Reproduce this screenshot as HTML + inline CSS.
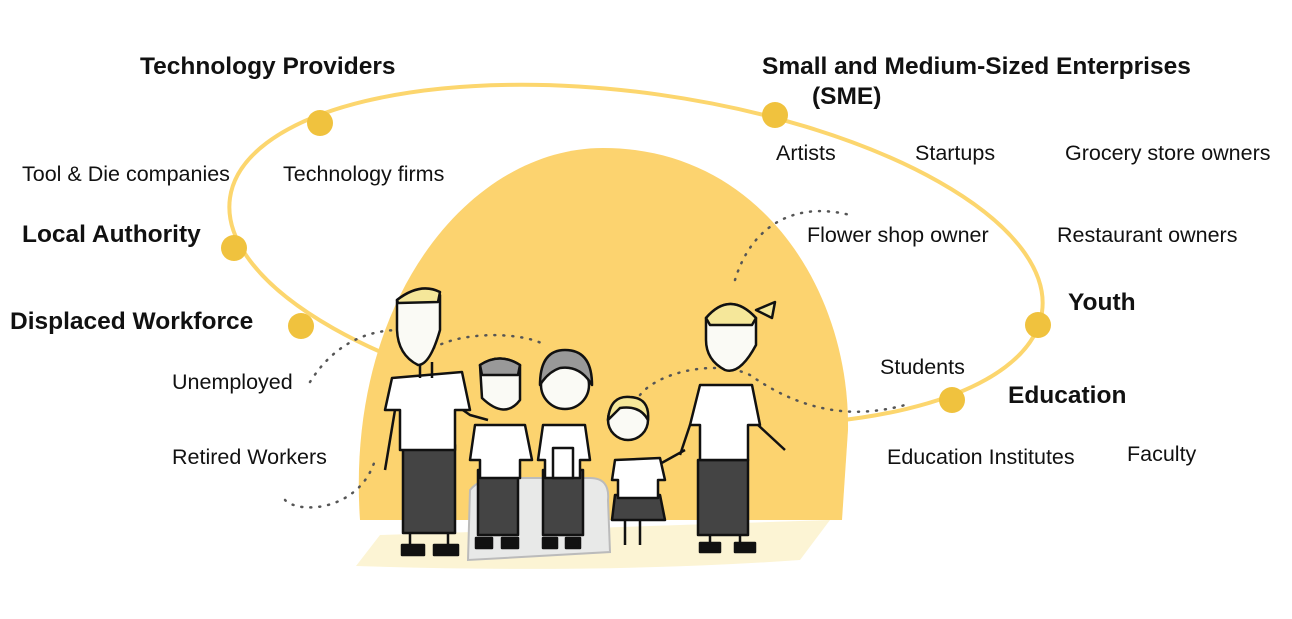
<!DOCTYPE html>
<html><head><meta charset="utf-8"><style>
body{margin:0;background:#fff;width:1292px;height:614px;overflow:hidden}
text{font-family:"Liberation Sans",sans-serif;fill:#111}
.b{font-weight:bold;font-size:24.5px}
.r{font-size:21.5px}
</style></head><body>
<svg width="1292" height="614" viewBox="0 0 1292 614">
<ellipse cx="636" cy="255" rx="410" ry="162" transform="rotate(8 636 255)" fill="none" stroke="#fcd66e" stroke-width="4"/>
<path d="M360,520 C345,300 470,148 603,148 C760,148 850,290 848,430 L842,520 Z" fill="#fcd36f"/>
<path d="M356,566 L380,535 L830,520 L800,560 Q600,574 356,566 Z" fill="#fcf4d4"/>
<g fill="#f0c23e">
<circle cx="320" cy="123" r="13"/><circle cx="775" cy="115" r="13"/><circle cx="234" cy="248" r="13"/>
<circle cx="301" cy="326" r="13"/><circle cx="1038" cy="325" r="13"/><circle cx="952" cy="400" r="13"/>
</g>
<g fill="none" stroke="#555" stroke-width="2.5" stroke-dasharray="1 8" stroke-linecap="round">
<path d="M310,382 C330,350 360,330 400,330"/>
<path d="M285,500 C300,515 360,510 375,460"/>
<path d="M420,360 C440,330 520,330 545,345"/>
<path d="M735,280 C750,230 790,200 850,215"/>
<path d="M640,395 C660,370 720,360 750,375 C800,410 850,420 905,405"/>
</g>
<path d="M468,560 L470,490 Q480,478 500,478 L590,478 Q610,478 608,500 L610,552 Z" fill="#e8e9e8" stroke="#bbb" stroke-width="2"/>
<g stroke="#111" stroke-width="2.5" stroke-linejoin="round">
<!-- man -->
<path d="M395,410 L385,470 M460,408 L470,415 L488,420" fill="none"/>
<path d="M410,530 L410,545 M448,530 L448,545" fill="none"/>
<rect x="402" y="545" width="22" height="10" fill="#111"/><rect x="434" y="545" width="24" height="10" fill="#111"/>
<rect x="403" y="445" width="52" height="88" fill="#444"/>
<path d="M392,378 L462,372 L470,410 L455,410 L455,450 L400,450 L400,410 L385,410 Z" fill="#fff"/>
<path d="M420,362 L420,378 M432,362 L432,378" fill="none"/>
<path d="M397,300 Q420,282 440,295 L440,330 Q430,365 418,365 Q398,355 397,330 Z" fill="#fafaf5"/>
<path d="M397,300 Q420,282 440,292 L438,302 L398,303 Z" fill="#f5e79a"/>
<!-- old man -->
<rect x="478" y="470" width="40" height="65" fill="#444"/>
<rect x="476" y="538" width="16" height="10" fill="#111"/><rect x="502" y="538" width="16" height="10" fill="#111"/>
<path d="M475,425 L525,425 L532,460 L520,460 L520,478 L480,478 L480,460 L470,460 Z" fill="#fff"/>
<path d="M480,365 Q500,352 520,365 L520,400 Q505,420 482,398 Z" fill="#fafaf5"/>
<path d="M480,365 Q500,352 520,365 L518,375 L482,375 Z" fill="#999"/>
<!-- woman -->
<rect x="543" y="470" width="40" height="65" fill="#444"/>
<rect x="543" y="538" width="14" height="10" fill="#111"/><rect x="566" y="538" width="14" height="10" fill="#111"/>
<path d="M543,425 L585,425 L590,460 L580,460 L580,478 L545,478 L545,460 L538,460 Z" fill="#fff"/>
<rect x="553" y="448" width="20" height="30" fill="#fff"/>
<circle cx="565" cy="385" r="24" fill="#fafaf5"/>
<path d="M540,385 Q540,350 565,350 Q592,350 592,385 Q580,365 560,368 Q548,372 540,385Z" fill="#999"/>
<!-- girl -->
<path d="M625,520 L625,545 M640,520 L640,545 M658,465 L685,450" fill="none"/>
<path d="M615,495 L660,495 L665,520 L612,520 Z" fill="#444"/>
<path d="M615,460 L660,458 L665,480 L658,480 L658,498 L618,498 L618,480 L612,480 Z" fill="#fff"/>
<circle cx="628" cy="420" r="20" fill="#fafaf5"/>
<path d="M608,420 Q610,395 630,397 Q650,398 648,420 Q640,405 620,408 Z" fill="#f5e79a"/>
<!-- woman right -->
<path d="M710,535 L710,545 M740,535 L740,545 M690,425 L680,455 M758,425 L785,450" fill="none"/>
<rect x="700" y="543" width="20" height="9" fill="#111"/><rect x="735" y="543" width="20" height="9" fill="#111"/>
<rect x="698" y="460" width="50" height="75" fill="#444"/>
<path d="M700,385 L752,385 L760,425 L748,425 L748,460 L700,460 L700,425 L690,425 Z" fill="#fff"/>
<path d="M706,318 Q730,290 756,318 L756,345 Q740,375 725,370 Q706,360 706,340 Z" fill="#fafaf5"/>
<path d="M706,318 Q730,290 756,318 L752,325 L710,325Z" fill="#f5e79a"/>
<path d="M756,310 L775,302 L772,318 Z" fill="#f5e79a"/>
</g>
<text class="b" x="140" y="74">Technology Providers</text>
<text class="b" x="762" y="74">Small and Medium-Sized Enterprises</text>
<text class="b" x="812" y="104">(SME)</text>
<text class="b" x="22" y="242">Local Authority</text>
<text class="b" x="10" y="329">Displaced Workforce</text>
<text class="b" x="1068" y="310">Youth</text>
<text class="b" x="1008" y="403">Education</text>
<text class="r" x="22" y="181">Tool &amp; Die companies</text>
<text class="r" x="283" y="181">Technology firms</text>
<text class="r" x="776" y="160">Artists</text>
<text class="r" x="915" y="160">Startups</text>
<text class="r" x="1065" y="160">Grocery store owners</text>
<text class="r" x="807" y="242">Flower shop owner</text>
<text class="r" x="1057" y="242">Restaurant owners</text>
<text class="r" x="172" y="389">Unemployed</text>
<text class="r" x="172" y="464">Retired Workers</text>
<text class="r" x="880" y="374">Students</text>
<text class="r" x="887" y="464">Education Institutes</text>
<text class="r" x="1127" y="461">Faculty</text>
</svg>
</body></html>
